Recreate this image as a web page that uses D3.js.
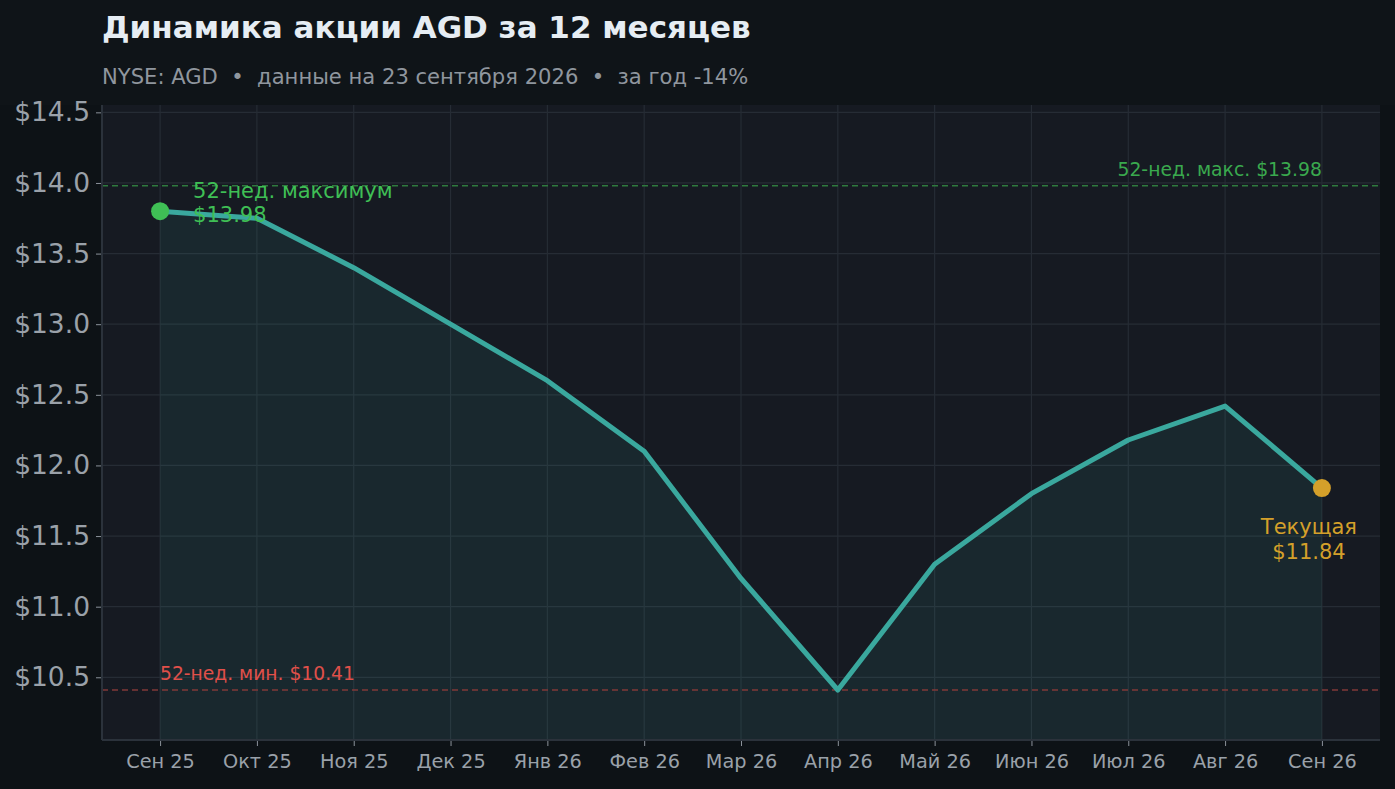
<!DOCTYPE html>
<html>
<head>
<meta charset="utf-8">
<script src="https://cdn.jsdelivr.net/npm/d3@7"></script>
<style>
  body { margin: 0; background: #0d1117; }
  svg { display: block; font-family: "DejaVu Sans", sans-serif; }
</style>
</head>
<body>
<div id="chart"></div>
<script>
// Chart data: monthly closing prices
let months = ["Сен 25", "Окт 25", "Ноя 25", "Дек 25", "Янв 26", "Фев 26", "Мар 26",
              "Апр 26", "Май 26", "Июн 26", "Июл 26", "Авг 26", "Сен 26"];
let prices = [13.80, 13.75, 13.40, 13.00, 12.60, 12.10, 11.20,
              10.41, 11.30, 11.80, 12.18, 12.42, 11.84];
let yTicks = [10.5, 11.0, 11.5, 12.0, 12.5, 13.0, 13.5, 14.0, 14.5];
let high52 = 13.98;
let low52 = 10.41;

let w = 1395;
let h = 789;
let plotLeft = 102;
let plotRight = 1380;
let plotTop = 105;
let plotBottom = 740;

let svg = d3.select("#chart").append("svg")
    .attr("width", w)
    .attr("height", h);

svg.append("rect").attr("width", w).attr("height", h).attr("fill", "#0d1216");
svg.append("rect").attr("width", w).attr("height", plotTop).attr("fill", "#0f1418");

// Scales: months by index, padded like matplotlib margins
let xScale = d3.scaleLinear()
    .domain([-0.6, months.length - 1 + 0.6])
    .range([plotLeft, plotRight]);
let yScale = d3.scaleLinear()
    .domain([10.056, 14.552])
    .range([plotBottom, plotTop]);

// Plot background
svg.append("rect")
    .attr("x", plotLeft).attr("y", plotTop)
    .attr("width", plotRight - plotLeft).attr("height", plotBottom - plotTop)
    .attr("fill", "#161a22");

// Grid lines
svg.append("g").selectAll("line").data(yTicks).enter().append("line")
    .attr("x1", plotLeft).attr("x2", plotRight)
    .attr("y1", d => yScale(d)).attr("y2", d => yScale(d))
    .attr("stroke", "#262c35").attr("stroke-width", 1.2);
svg.append("g").selectAll("line").data(months).enter().append("line")
    .attr("x1", (d, i) => xScale(i)).attr("x2", (d, i) => xScale(i))
    .attr("y1", plotTop).attr("y2", plotBottom)
    .attr("stroke", "#262c35").attr("stroke-width", 1.2);

// Area under the line
let area = d3.area()
    .x((d, i) => xScale(i))
    .y0(plotBottom)
    .y1(d => yScale(d));
svg.append("path")
    .datum(prices)
    .attr("d", area)
    .attr("fill", "#3aa89e")
    .attr("fill-opacity", 0.1);

// 52-week high / low reference lines
svg.append("line")
    .attr("x1", plotLeft).attr("x2", plotRight)
    .attr("y1", yScale(high52)).attr("y2", yScale(high52))
    .attr("stroke", "#2f7a3e").attr("stroke-width", 1.5)
    .attr("stroke-dasharray", "6,4");
svg.append("line")
    .attr("x1", plotLeft).attr("x2", plotRight)
    .attr("y1", yScale(low52)).attr("y2", yScale(low52))
    .attr("stroke", "#803838").attr("stroke-width", 1.5)
    .attr("stroke-dasharray", "6,4");

svg.append("text")
    .text("52-нед. макс. $" + high52.toFixed(2))
    .attr("x", xScale(months.length - 1))
    .attr("y", yScale(high52) - 10)
    .attr("text-anchor", "end")
    .attr("font-size", "18.8px")
    .attr("fill", "#3aa94e");
svg.append("text")
    .text("52-нед. мин. $" + low52.toFixed(2))
    .attr("x", xScale(0))
    .attr("y", yScale(low52) - 10)
    .attr("font-size", "18.7px")
    .attr("fill", "#e0504a");

// Price line
let line = d3.line()
    .x((d, i) => xScale(i))
    .y(d => yScale(d));
svg.append("path")
    .datum(prices)
    .attr("d", line)
    .attr("fill", "none")
    .attr("stroke", "#3aa89e")
    .attr("stroke-width", 5)
    .attr("stroke-linejoin", "round");

// Start point and current point markers
let last = prices.length - 1;
svg.append("circle")
    .attr("cx", xScale(0)).attr("cy", yScale(prices[0]))
    .attr("r", 9).attr("fill", "#3fbf55");
svg.append("circle")
    .attr("cx", xScale(last)).attr("cy", yScale(prices[last]))
    .attr("r", 9).attr("fill", "#d4a02a");

let maxNote = svg.append("text")
    .attr("font-size", "21px")
    .attr("fill", "#3fbf55");
maxNote.append("tspan").attr("x", xScale(0) + 33).attr("y", yScale(prices[0]) - 13).text("52-нед. максимум");
maxNote.append("tspan").attr("x", xScale(0) + 33).attr("dy", 24).text("$" + high52.toFixed(2));

let curNote = svg.append("text")
    .attr("font-size", "21px")
    .attr("fill", "#d4a02a")
    .attr("text-anchor", "middle");
curNote.append("tspan").attr("x", xScale(last) - 13).attr("y", yScale(prices[last]) + 46).text("Текущая");
curNote.append("tspan").attr("x", xScale(last) - 13).attr("dy", 25).text("$" + prices[last].toFixed(2));

// Axes
let xAxis = d3.axisBottom(xScale)
    .tickValues(d3.range(months.length))
    .tickFormat(i => months[i])
    .tickSize(6).tickPadding(8);
let yAxis = d3.axisLeft(yScale)
    .tickValues(yTicks)
    .tickFormat(d => "$" + d.toFixed(1))
    .tickSize(6).tickPadding(6);

let gx = svg.append("g")
    .attr("transform", "translate(0," + plotBottom + ")")
    .call(xAxis);
gx.select(".domain").remove();
gx.selectAll("line").attr("stroke", "#8b929a");
gx.selectAll("text").attr("fill", "#9aa1a9").attr("font-size", "19.3px")
    .attr("font-family", "DejaVu Sans");

let gy = svg.append("g")
    .attr("transform", "translate(" + plotLeft + ",0)")
    .call(yAxis);
gy.select(".domain").remove();
gy.selectAll("line").attr("stroke", "#8b929a");
gy.selectAll("text").attr("fill", "#9aa1a9").attr("font-size", "26.5px")
    .attr("font-family", "DejaVu Sans");

// Left and bottom spines
svg.append("line")
    .attr("x1", plotLeft).attr("x2", plotLeft)
    .attr("y1", plotTop).attr("y2", plotBottom)
    .attr("stroke", "#2b323b").attr("stroke-width", 2);
svg.append("line")
    .attr("x1", plotLeft).attr("x2", plotRight)
    .attr("y1", plotBottom).attr("y2", plotBottom)
    .attr("stroke", "#2b323b").attr("stroke-width", 2);

// Title and subtitle
svg.append("text")
    .text("Динамика акции AGD за 12 месяцев")
    .attr("x", plotLeft).attr("y", 38)
    .attr("font-size", "31px").attr("font-weight", "bold")
    .attr("fill", "#e6edf3");
svg.append("text")
    .text("NYSE: AGD  •  данные на 23 сентября 2026  •  за год -14%")
    .attr("x", plotLeft).attr("y", 84)
    .attr("font-size", "21.1px")
    .attr("fill", "#8f969e")
    .style("white-space", "pre");
</script>
</body>
</html>
